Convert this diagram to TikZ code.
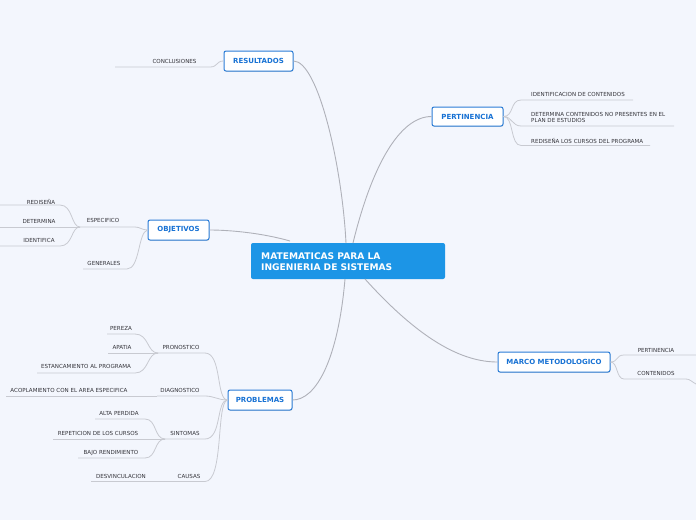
\documentclass[tikz,border=0pt]{standalone}
\usepackage{fontspec}
\setmainfont{DejaVu Sans}
\usetikzlibrary{shadows}
\definecolor{bgc}{HTML}{F3F6FD}
\definecolor{mainline}{HTML}{AFB1B9}
\definecolor{subline}{HTML}{C8CAD1}
\definecolor{nodeblue}{HTML}{2A7CD6}
\definecolor{textblue}{HTML}{1872D4}
\definecolor{centerfill}{HTML}{1C95E6}
\definecolor{lbltext}{HTML}{34343A}
\tikzset{
  topic/.style={draw=nodeblue, line width=1pt, fill=white, rounded corners=2pt,
    text=textblue, font=\fontsize{7}{8}\selectfont\bfseries, inner sep=0pt,
    minimum height=20pt, drop shadow={opacity=0.25, shadow xshift=0.4pt, shadow yshift=-0.8pt}},
  lbl/.style={text=lbltext, font=\fontsize{5.55}{6}\selectfont, inner sep=0pt},
  conn/.style={draw=mainline, line width=0.9pt},
  sub/.style={draw=subline, line width=0.8pt},
}
\begin{document}
\begin{tikzpicture}[x=1pt,y=-1pt]
\fill[bgc] (0,0) rectangle (696,520);
\useasboundingbox (0,0) rectangle (696,520);

% center
\node[fill=centerfill, rounded corners=2pt, minimum width=194pt, minimum height=36pt, inner sep=0pt] (center) at (348,261) {};
\node[anchor=west, align=left, text=white, font=\fontsize{9.1}{11}\selectfont\bfseries, inner sep=0pt] (ctext) at (261,261.5) {MATEMATICAS PARA LA\\INGENIERIA DE SISTEMAS};

% main topics
\node[topic, minimum width=69pt] (res) at (258.5,61) {RESULTADOS};
\node[topic, minimum width=71pt, minimum height=19pt] (per) at (467.5,116.5) {PERTINENCIA};
\node[topic, minimum width=61pt] (obj) at (178.5,230) {OBJETIVOS};
\node[topic, minimum width=64pt] (pro) at (260,400) {PROBLEMAS};
\node[topic, minimum width=112pt] (mar) at (554,362) {MARCO METODOLOGICO};

% center connectors
\coordinate (cres) at (346,243);
\coordinate (cper) at (353,243);
\coordinate (cobj) at (290,241);
\coordinate (cpro) at (345,279);
\coordinate (cmar) at (365,279);
\draw[conn] (cres) .. controls (342,165) and (318,61) .. (res.east);
\draw[conn] (cper) .. controls (372,165) and (400,116.5) .. (per.west);
\draw[conn] (cobj) .. controls (262,233) and (230,230) .. (obj.east);
\draw[conn] (cpro) .. controls (338,360) and (316,400) .. (pro.east);
\draw[conn] (cmar) .. controls (420,340) and (462,362) .. (mar.west);

% RESULTADOS
\node[lbl] (concl) at (174.5,61.5) {CONCLUSIONES};
\coordinate (r1) at (210,67); \coordinate (r1e) at (115,67);
\draw[sub] (res.west) .. controls (216,61) and (218,67) .. (r1) -- (r1e);

% PERTINENCIA
\node[lbl, anchor=west] (p1) at (531,94.5) {IDENTIFICACION DE CONTENIDOS};
\node[lbl, anchor=west, align=left, font=\fontsize{5.55}{6.4}\selectfont] (p2) at (531,117.5) {DETERMINA CONTENIDOS NO PRESENTES EN EL\\PLAN DE ESTUDIOS};
\node[lbl, anchor=west] (p3) at (531,140.5) {REDISEÑA LOS CURSOS DEL PROGRAMA};
\coordinate (p1a) at (521,100); \coordinate (p1b) at (633,100);
\coordinate (p2a) at (521,126); \coordinate (p2b) at (674,126);
\coordinate (p3a) at (521,145.5); \coordinate (p3b) at (650,145.5);
\draw[sub] (per.east) .. controls (514,116.5) and (510,100) .. (p1a) -- (p1b);
\draw[sub] (per.east) .. controls (512,116.5) and (512,126) .. (p2a) -- (p2b);
\draw[sub] (per.east) .. controls (514,116.5) and (510,145.5) .. (p3a) -- (p3b);

% OBJETIVOS
\node[lbl] (esp) at (103,220.5) {ESPECIFICO};
\node[lbl] (gen) at (104,263.5) {GENERALES};
\node[lbl] (o1) at (41,201.5) {REDISEÑA};
\node[lbl] (o2) at (39,221.5) {DETERMINA};
\node[lbl] (o3) at (39,240.5) {IDENTIFICA};
\coordinate (ej) at (80,227); \coordinate (ee) at (135,227);
\coordinate (ge) at (127,269); \coordinate (gs) at (83,269);
\draw[sub] (obj.west) .. controls (142,230) and (140,227) .. (ee) -- (ej);
\draw[sub] (obj.west) .. controls (138,232) and (140,269) .. (ge) -- (gs);
\coordinate (o1a) at (60,205); \coordinate (o1b) at (0,205);
\coordinate (o2b) at (0,227);
\coordinate (o3a) at (60,246); \coordinate (o3b) at (0,246);
\draw[sub] (ej) .. controls (71,227) and (73,205) .. (o1a) -- (o1b);
\draw[sub] (ej) -- (o2b);
\draw[sub] (ej) .. controls (71,227) and (73,246) .. (o3a) -- (o3b);

% PROBLEMAS
\node[lbl] (pron) at (181,347.5) {PRONOSTICO};
\node[lbl] (diag) at (180,390.5) {DIAGNOSTICO};
\node[lbl] (sint) at (185,433.5) {SINTOMAS};
\node[lbl] (caus) at (189,476.5) {CAUSAS};
\coordinate (pr1) at (205,353); \coordinate (prj) at (158,353);
\coordinate (dg1) at (205,396); \coordinate (dgj) at (157,396);
\coordinate (si1) at (205,439); \coordinate (sij) at (165,439);
\coordinate (ca1) at (205,481.5); \coordinate (caj) at (170,481.5);
\draw[sub] (pro.west) .. controls (216,400) and (222,353) .. (pr1) -- (prj);
\draw[sub] (pro.west) .. controls (218,400) and (214,396) .. (dg1) -- (dgj);
\draw[sub] (pro.west) .. controls (216,400) and (222,439) .. (si1) -- (sij);
\draw[sub] (pro.west) .. controls (216,402) and (224,481.5) .. (ca1) -- (caj);

\node[lbl] (pere) at (121,328.5) {PEREZA};
\node[lbl] (apat) at (122,347.5) {APATIA};
\node[lbl] (esta) at (86,366.5) {ESTANCAMIENTO AL PROGRAMA};
\coordinate (pe1) at (135,334); \coordinate (pe2) at (107,334);
\coordinate (ap2) at (108,353);
\coordinate (es1) at (135,373); \coordinate (es2) at (37,373);
\draw[sub] (prj) .. controls (147,353) and (149,334) .. (pe1) -- (pe2);
\draw[sub] (prj) -- (ap2);
\draw[sub] (prj) .. controls (147,353) and (149,373) .. (es1) -- (es2);

\node[lbl] (acop) at (69,390.5) {ACOPLAMIENTO CON EL AREA ESPECIFICA};
\coordinate (ac2) at (6,396);
\draw[sub] (dgj) -- (ac2);

\node[lbl] (alta) at (119,413.5) {ALTA PERDIDA};
\node[lbl] (repe) at (98,433.5) {REPETICION DE LOS CURSOS};
\node[lbl] (bajo) at (111,452.5) {BAJO RENDIMIENTO};
\coordinate (al1) at (145,419); \coordinate (al2) at (95,419);
\coordinate (re2) at (53,439);
\coordinate (ba1) at (145,458); \coordinate (ba2) at (78,458);
\draw[sub] (sij) .. controls (154,439) and (157,419) .. (al1) -- (al2);
\draw[sub] (sij) -- (re2);
\draw[sub] (sij) .. controls (154,439) and (157,458) .. (ba1) -- (ba2);

\node[lbl] (desv) at (121,476.5) {DESVINCULACION};
\coordinate (de2) at (91,481.5);
\draw[sub] (caj) -- (de2);

% MARCO METODOLOGICO
\node[lbl] (mper) at (656,350.5) {PERTINENCIA};
\node[lbl] (mcon) at (656,373.5) {CONTENIDOS};
\coordinate (m1a) at (624,355); \coordinate (m1b) at (696,355);
\coordinate (m2a) at (624,379); \coordinate (m2b) at (686,379); \coordinate (m2c) at (696,384);
\draw[sub] (mar.east) .. controls (618,362) and (616,355) .. (m1a) -- (m1b);
\draw[sub] (mar.east) .. controls (618,362) and (616,379) .. (m2a) -- (m2b) .. controls (690,379) and (692,382) .. (m2c);
\end{tikzpicture}
\end{document}
